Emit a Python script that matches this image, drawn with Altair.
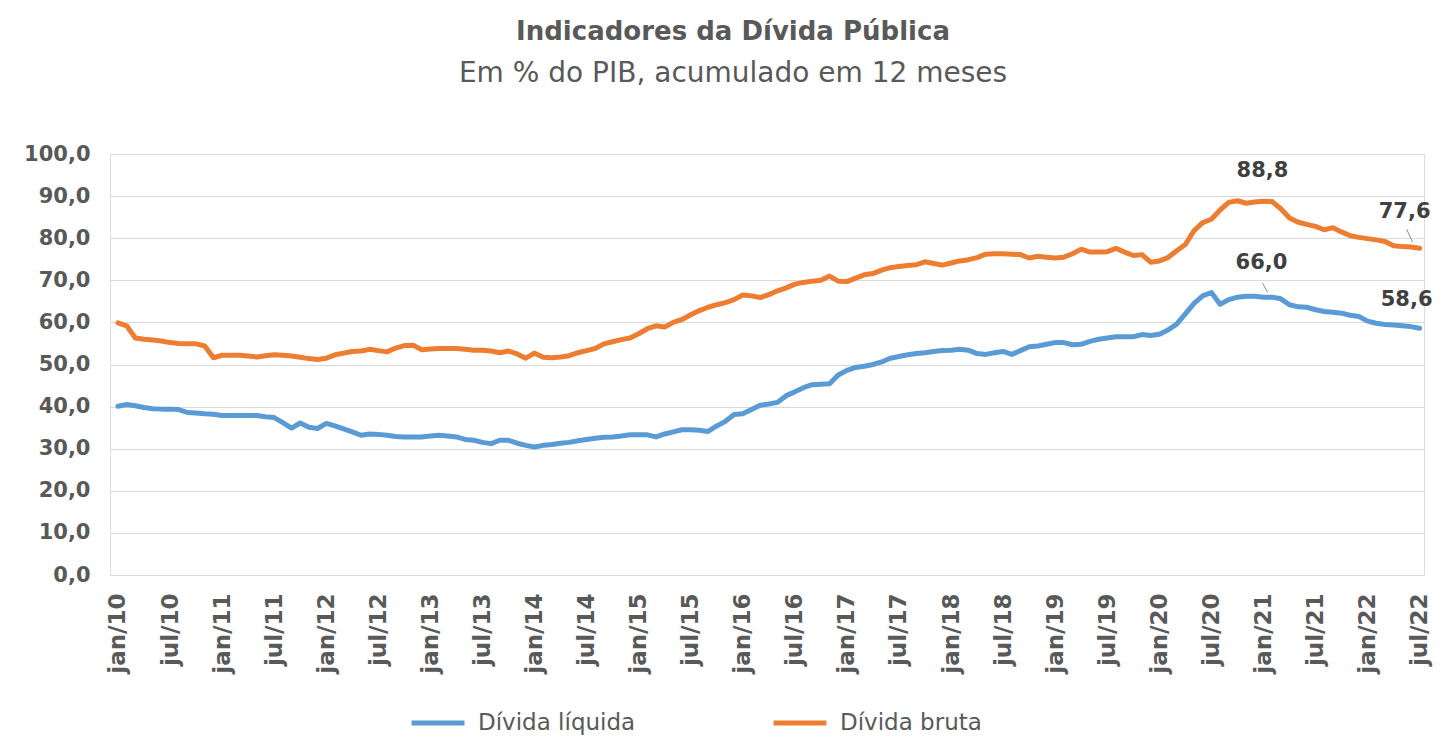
import json
import altair as alt
import pandas as pd

MESES = ['jan', 'fev', 'mar', 'abr', 'mai', 'jun', 'jul', 'ago', 'set', 'out', 'nov', 'dez']
N = 151
meses = [f"{MESES[i % 12]}/{10 + i // 12:02d}" for i in range(N)]

divida_bruta = [
    59.9, 59.2, 56.3, 56.0, 55.8, 55.6, 55.2, 55.0, 54.9, 54.9, 54.4, 51.6,
    52.2, 52.2, 52.2, 52.0, 51.8, 52.1, 52.3, 52.2, 52.0, 51.7, 51.4, 51.2,
    51.5, 52.3, 52.7, 53.1, 53.2, 53.6, 53.3, 53.0, 53.9, 54.5, 54.6, 53.5,
    53.7, 53.8, 53.8, 53.8, 53.6, 53.4, 53.4, 53.2, 52.8, 53.2, 52.5, 51.5,
    52.7, 51.7, 51.6, 51.8, 52.1, 52.8, 53.3, 53.8, 54.9, 55.4, 55.9, 56.3,
    57.3, 58.5, 59.2, 58.9, 60.0, 60.7, 61.8, 62.8, 63.6, 64.2, 64.7, 65.4,
    66.5, 66.3, 65.9, 66.6, 67.5, 68.2, 69.1, 69.5, 69.8, 70.0, 71.0, 69.8,
    69.7, 70.5, 71.3, 71.6, 72.4, 73.0, 73.3, 73.5, 73.7, 74.4, 74.0, 73.6,
    74.1, 74.6, 74.9, 75.4, 76.2, 76.3, 76.3, 76.2, 76.1, 75.3, 75.7, 75.5,
    75.3, 75.5, 76.3, 77.4, 76.7, 76.7, 76.8, 77.6, 76.7, 75.9, 76.1, 74.3,
    74.6, 75.4, 77.0, 78.5, 81.8, 83.7, 84.5, 86.7, 88.5, 88.9, 88.3, 88.6,
    88.8, 88.7, 87.0, 84.8, 83.8, 83.3, 82.8, 82.0, 82.5, 81.5, 80.6, 80.2,
    79.9, 79.6, 79.2, 78.2, 78.0, 77.9, 77.6,
]

divida_liquida = [
    40.1, 40.5, 40.2, 39.8, 39.5, 39.4, 39.4, 39.3, 38.6, 38.5, 38.3, 38.2,
    37.9, 37.9, 37.9, 37.9, 37.9, 37.6, 37.4, 36.2, 34.9, 36.1, 35.1, 34.8,
    36.0, 35.4, 34.7, 34.0, 33.2, 33.5, 33.4, 33.2, 32.9, 32.8, 32.8, 32.8,
    33.0, 33.2, 33.0, 32.8, 32.2, 32.0, 31.5, 31.2, 32.0, 32.0, 31.3, 30.8,
    30.4, 30.8, 31.0, 31.3, 31.5, 31.9, 32.2, 32.5, 32.7, 32.8, 33.0, 33.3,
    33.3, 33.3, 32.8, 33.5, 34.0, 34.5, 34.5, 34.4, 34.1, 35.4, 36.5, 38.1,
    38.3, 39.3, 40.3, 40.6, 41.0, 42.6, 43.5, 44.5, 45.2, 45.3, 45.4, 47.5,
    48.6, 49.3, 49.6, 50.0, 50.6, 51.5, 51.9, 52.3, 52.6, 52.8, 53.1, 53.3,
    53.4, 53.6, 53.4, 52.6, 52.4, 52.8, 53.1, 52.4, 53.3, 54.2, 54.4, 54.8,
    55.2, 55.2, 54.7, 54.8, 55.5, 56.0, 56.3, 56.6, 56.6, 56.6, 57.1, 56.9,
    57.2, 58.2, 59.6, 62.0, 64.5, 66.3, 67.1, 64.3, 65.4, 66.0, 66.2, 66.2,
    66.0, 66.0, 65.6, 64.2, 63.7, 63.6, 63.0, 62.6, 62.4, 62.2, 61.7, 61.4,
    60.3, 59.8, 59.5, 59.4, 59.2, 59.0, 58.6,
]

series = ['Dívida líquida', 'Dívida bruta']
cores = ['#5B9BD5', '#ED7D31']

df = pd.DataFrame({
    'idx': list(range(N)) * 2,
    'mes': meses * 2,
    'valor': divida_liquida + divida_bruta,
    'serie': [series[0]] * N + [series[1]] * N,
})

# labelled points: (series, month index)
rotulos_serie = ['Dívida bruta', 'Dívida líquida', 'Dívida bruta', 'Dívida líquida']
rotulos_idx = [132, 132, 150, 150]


def ponto(s, i):
    v = divida_bruta[i] if s == 'Dívida bruta' else divida_liquida[i]
    return pd.DataFrame({'idx': [i], 'valor': [v], 'serie': [s]})


tick_idx = list(range(0, N, 6))
tick_labels = [meses[i] for i in tick_idx]
x_label_expr = json.dumps(tick_labels) + "[round(datum.value / 6)]"

FONT = 'DejaVu Sans'
GREY = '#595959'

x_enc = alt.X(
    'idx:Q',
    scale=alt.Scale(domain=[-0.92, 150.5], nice=False, zero=False),
    axis=alt.Axis(
        values=tick_idx, labelExpr=x_label_expr, labelAngle=270,
        labelFont=FONT, labelFontSize=23, labelFontWeight='bold', labelColor=GREY,
        labelPadding=18, domain=False, ticks=False, grid=False, title=None,
        labelOverlap=False,
    ),
)
y_enc = alt.Y(
    'valor:Q',
    scale=alt.Scale(domain=[0, 100], nice=False, zero=True),
    axis=alt.Axis(
        values=list(range(0, 101, 10)),
        labelExpr="replace(format(datum.value, '.1f'), '.', ',')",
        labelFont=FONT, labelFontSize=21, labelFontWeight='bold', labelColor=GREY,
        labelPadding=20, domain=False, ticks=False, grid=True,
        gridColor='#d9d9d9', gridWidth=1.2, title=None,
    ),
)

linhas = alt.Chart(df).mark_line(strokeWidth=5, strokeJoin='round', strokeCap='round').encode(
    x=x_enc,
    y=y_enc,
    color=alt.Color(
        'serie:N',
        scale=alt.Scale(domain=series, range=cores),
        legend=alt.Legend(
            title=None, orient='none', legendX=299, legendY=540, direction='horizontal',
            symbolType='stroke', symbolSize=2809, symbolStrokeWidth=5,
            labelFont=FONT, labelFontSize=23, labelColor=GREY, labelOffset=11,
            columnPadding=127, padding=0, labelLimit=400,
        ),
    ),
    detail='serie:N',
)

txt_calc = "replace(format(datum.valor, '.1f'), '.', ',')"
offsets = [(-1, -30), (-2, -34), (-15, -36), (-13, -28)]
camadas = [linhas]
for s, i, (dx, dy) in zip(rotulos_serie, rotulos_idx, offsets):
    camadas.append(
        alt.Chart(ponto(s, i)).transform_calculate(txt=txt_calc)
        .mark_text(font=FONT, fontSize=21, fontWeight='bold', color='#404040',
                   dx=dx, dy=dy, align='center', baseline='middle')
        .encode(x='idx:Q', y='valor:Q', text='txt:N')
    )

# small leader lines
lideres = [('Dívida bruta', 150, -13, -19, -7, -6), ('Dívida líquida', 132, -1, -14, 4, -5)]
for s, i, x1, y1, x2, y2 in lideres:
    camadas.append(
        alt.Chart(ponto(s, i)).mark_rule(color='#8c8c8c', strokeWidth=1,
                                         xOffset=x1, yOffset=y1, x2Offset=x2, y2Offset=y2)
        .encode(x='idx:Q', y='valor:Q', x2='idx:Q', y2='valor:Q')
    )

chart = alt.layer(*camadas).properties(
    width=1314,
    height=421,
    autosize='none',
    padding={'left': 102, 'top': 146, 'right': 10, 'bottom': 160},
    title=alt.TitleParams(
        text='Indicadores da Dívida Pública',
        subtitle='Em % do PIB, acumulado em 12 meses',
        font=FONT, fontSize=26, fontWeight='bold', color=GREY,
        subtitleFont=FONT, subtitleFontSize=28, subtitleColor=GREY,
        subtitlePadding=15, anchor='middle', dx=-34, offset=55,
    ),
).configure_view(stroke=None).configure(background='white')

chart.save('out.html', embed_options={'renderer': 'svg', 'actions': False})
